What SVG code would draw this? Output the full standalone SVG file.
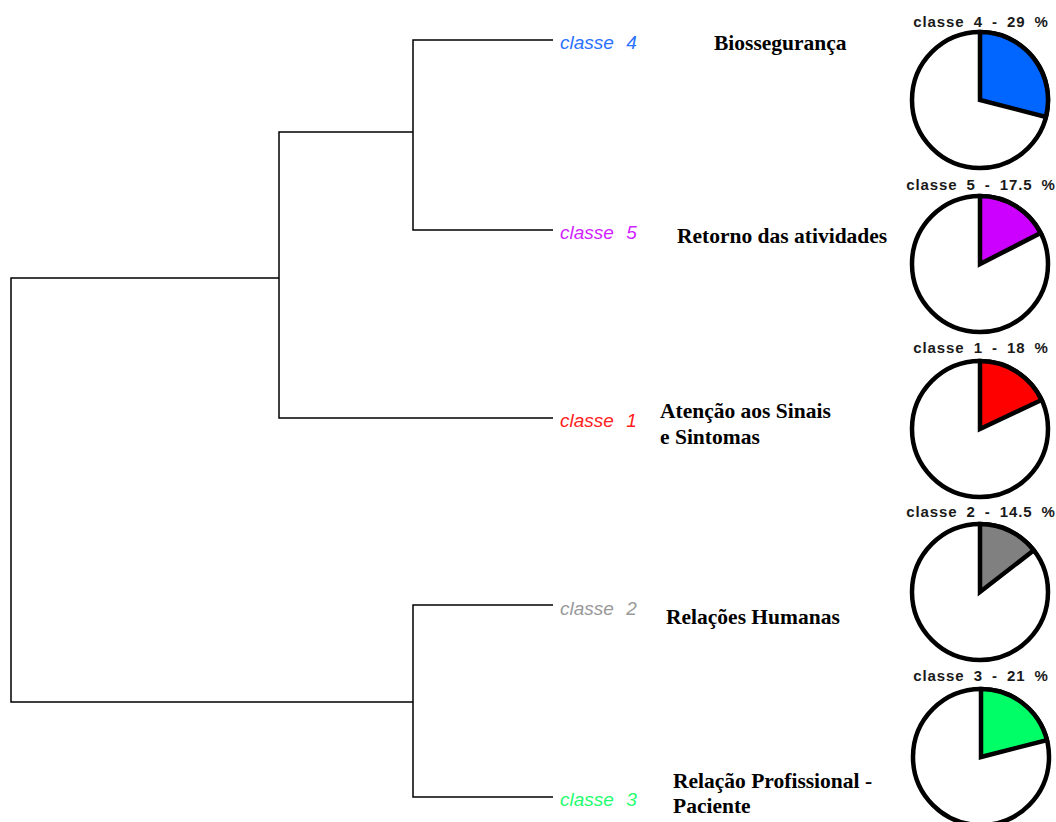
<svg xmlns="http://www.w3.org/2000/svg" width="1056" height="822" viewBox="0 0 1056 822">
<style>
.ln{stroke:#000;stroke-width:1.5;fill:none}
.cl{font-family:"Liberation Sans",Arial,sans-serif;font-style:italic;font-size:19px;word-spacing:7px}
.lb{font-family:"Liberation Serif","Times New Roman",serif;font-weight:bold;font-size:21.5px;fill:#000}
.pt{font-family:"Liberation Sans",Arial,sans-serif;font-weight:bold;font-size:15px;letter-spacing:0.9px;word-spacing:4px;fill:#1a1a1a;text-anchor:middle}
.pc{fill:#fff;stroke:#000;stroke-width:4.5}
.pw{stroke:#000;stroke-width:4.5;stroke-linejoin:miter}
</style>
<rect width="1056" height="822" fill="#fff"/>
<g id="connectors">
<path class="ln" d="M553 40H413V230H553"/>
<path class="ln" d="M413 132H279V418H553"/>
<path class="ln" d="M279 278H11V702H413"/>
<path class="ln" d="M553 605H413V797H553"/>
</g>
<g id="classe4">
<text class="cl" x="560" y="49" fill="#2a72ff">classe 4</text>
<text class="lb" x="714" y="50">Biossegurança</text>
<text class="pt" x="981" y="27">classe 4 - 29 %</text>
<circle class="pc" cx="980" cy="100" r="68"/>
<path class="pw" fill="#0066ff" d="M980 100V32A68 68 0 0 1 1045.9 116.9Z"/>
</g>
<g id="classe5">
<text class="cl" x="560" y="239" fill="#d21fff">classe 5</text>
<text class="lb" x="677" y="243">Retorno das atividades</text>
<text class="pt" x="981" y="190">classe 5 - 17.5 %</text>
<circle class="pc" cx="980" cy="264" r="68"/>
<path class="pw" fill="#cc00ff" d="M980 264V196A68 68 0 0 1 1040.6 233.1Z"/>
</g>
<g id="classe1">
<text class="cl" x="560" y="427" fill="#ff2020">classe 1</text>
<text class="lb" x="660" y="418">Atenção aos Sinais</text>
<text class="lb" x="660" y="444">e Sintomas</text>
<text class="pt" x="981" y="353">classe 1 - 18 %</text>
<circle class="pc" cx="980" cy="429" r="68"/>
<path class="pw" fill="#ff0000" d="M980 429V361A68 68 0 0 1 1041.5 400Z"/>
</g>
<g id="classe2">
<text class="cl" x="560" y="615" fill="#999999">classe 2</text>
<text class="lb" x="666" y="624">Relações Humanas</text>
<text class="pt" x="981" y="517">classe 2 - 14.5 %</text>
<circle class="pc" cx="980" cy="592" r="68"/>
<path class="pw" fill="#808080" d="M980 592V524A68 68 0 0 1 1033.7 550.3Z"/>
</g>
<g id="classe3">
<text class="cl" x="560" y="806" fill="#1fff70">classe 3</text>
<text class="lb" x="673" y="788">Relação Profissional -</text>
<text class="lb" x="673" y="813">Paciente</text>
<text class="pt" x="981" y="681">classe 3 - 21 %</text>
<circle class="pc" cx="981" cy="757" r="68"/>
<path class="pw" fill="#00ff66" d="M981 757V689A68 68 0 0 1 1046.9 740.1Z"/>
</g>
</svg>
